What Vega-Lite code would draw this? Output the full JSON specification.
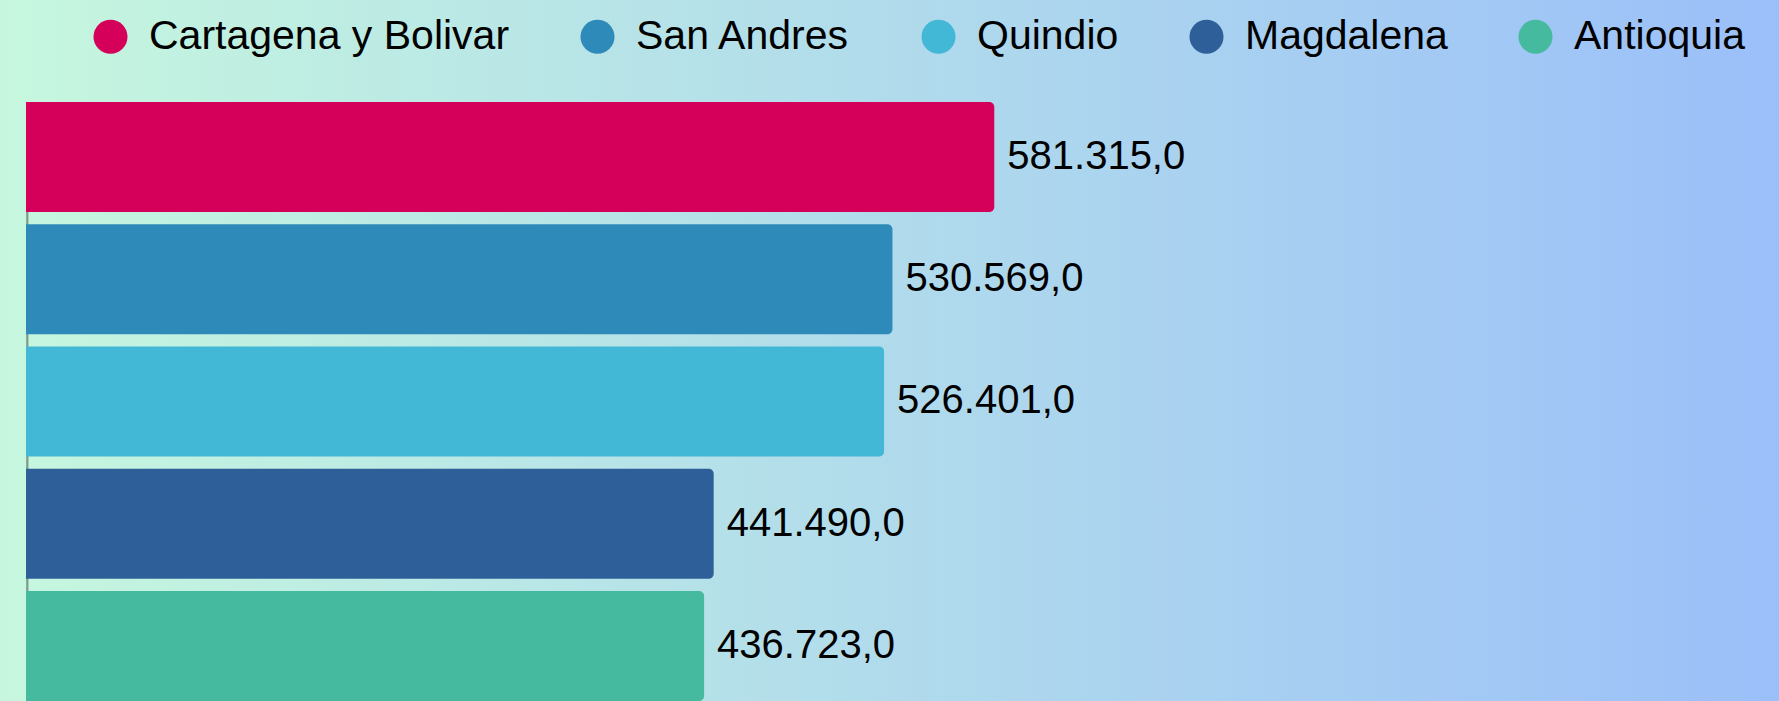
{
  "$schema": "https://vega.github.io/schema/vega-lite/v6.json",
  "width": 1779,
  "height": 701,
  "padding": 0,
  "autosize": {"type": "none"},
  "background": "#c6f7de",
  "config": {
    "view": {
      "stroke": null,
      "fill": {"gradient": "linear", "x1": 0, "y1": 0, "x2": 1, "y2": 0,
        "stops": [{"offset": 0, "color": "#c6f7de"}, {"offset": 1, "color": "#9bbff9"}]}
    },
    "locale": {"number": {"decimal": ",", "thousands": ".", "grouping": [3], "currency": ["$", ""]}}
  },
  "data": {"values": [
    {"dept": "Cartagena y Bolivar", "value": 581315.0},
    {"dept": "San Andres", "value": 530569.0},
    {"dept": "Quindio", "value": 526401.0},
    {"dept": "Magdalena", "value": 441490.0},
    {"dept": "Antioquia", "value": 436723.0}
  ]},
  "encoding": {
    "y": {"field": "dept", "type": "nominal", "sort": null, "axis": null,
      "scale": {"domain": ["Cartagena y Bolivar", "San Andres", "Quindio", "Magdalena", "Antioquia"],
        "paddingInner": 0.1, "paddingOuter": 0.417, "align": 1}}
  },
  "layer": [
    {
      "mark": {"type": "rule", "stroke": "#7f9a8c", "strokeOpacity": 0.7, "strokeWidth": 1.5},
      "encoding": {
        "x": {"datum": 99500, "type": "quantitative", "scale": {"domain": [85858, 972344], "zero": false, "nice": false}, "axis": null},
        "y": {"datum": "Cartagena y Bolivar", "type": "nominal", "bandPosition": 0},
        "y2": {"datum": "Antioquia"}
      }
    },
    {
      "mark": {"type": "bar", "cornerRadiusTopRight": 5, "cornerRadiusBottomRight": 5},
      "encoding": {
        "x": {"field": "value", "type": "quantitative", "scale": {"domain": [85858, 972344], "zero": false, "nice": false}, "axis": null},
        "x2": {"datum": 98814},
        "color": {"field": "dept", "type": "nominal", "sort": null,
          "scale": {"domain": ["Cartagena y Bolivar", "San Andres", "Quindio", "Magdalena", "Antioquia"],
            "range": ["#d5005a", "#2e8bb9", "#43b7d6", "#2e5f98", "#46ba9e"]},
          "legend": {
            "orient": "none", "direction": "horizontal", "legendX": 90, "legendY": 16,
            "title": null, "symbolType": "circle", "symbolSize": 1160, "symbolStrokeWidth": 0, "symbolOpacity": 1,
            "labelFont": "Liberation Sans", "labelFontSize": 41, "labelColor": "#000000", "labelOffset": 18,
            "columnPadding": 67, "labelLimit": 0, "padding": 0
          }
        }
      }
    },
    {
      "mark": {"type": "text", "align": "left", "baseline": "middle", "dx": 13, "font": "Liberation Sans", "fontSize": 40, "color": "#000000"},
      "encoding": {
        "x": {"field": "value", "type": "quantitative"},
        "text": {"field": "value", "type": "quantitative", "format": ",.1f"}
      }
    }
  ]
}
